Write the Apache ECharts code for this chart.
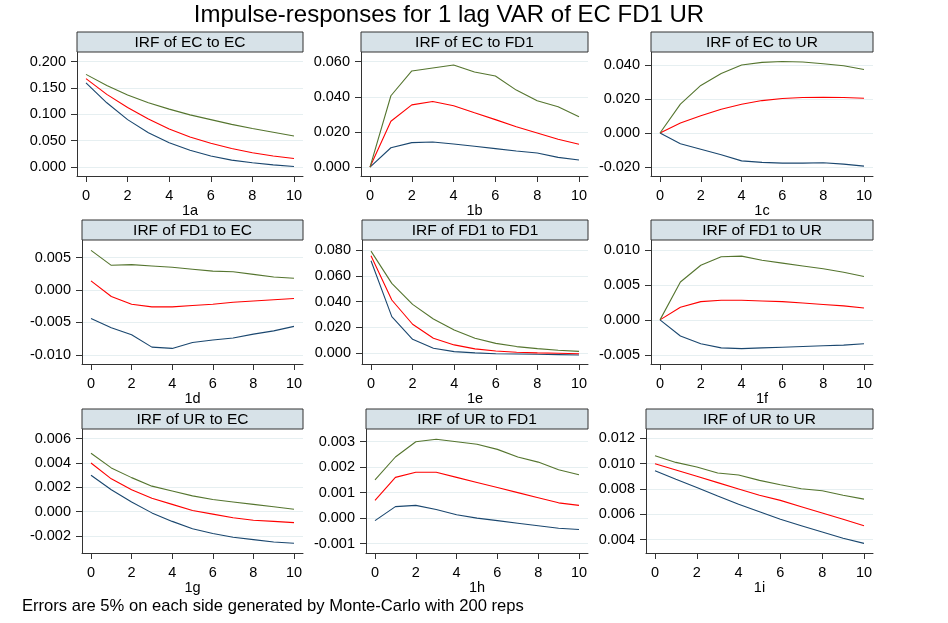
<!DOCTYPE html>
<html>
<head>
<meta charset="utf-8">
<script src="https://cdn.jsdelivr.net/npm/echarts@6/dist/echarts.min.js"></script>
<style>
html,body{margin:0;padding:0;background:#fff;}
#chart{width:948px;height:623px;}
</style>
</head>
<body>
<div id="chart"></div>
<script>
// ---------- DATA ----------
const horizons = [0,1,2,3,4,5,6,7,8,9,10];
const xTicks = [0,2,4,6,8,10];

const mainTitle = "Impulse-responses for 1 lag VAR of EC FD1 UR";
const footNote = "Errors are 5% on each side generated by Monte-Carlo with 200 reps";

const panelTitles = ["IRF of EC to EC","IRF of EC to FD1","IRF of EC to UR",
                     "IRF of FD1 to EC","IRF of FD1 to FD1","IRF of FD1 to UR",
                     "IRF of UR to EC","IRF of UR to FD1","IRF of UR to UR"];
const panelLabels = ["1a","1b","1c","1d","1e","1f","1g","1h","1i"];

// upper bound / irf / lower bound
const ec_ec_hi  = [0.176,0.155,0.137,0.122,0.110,0.099,0.090,0.081,0.073,0.066,0.059];
const ec_ec_irf = [0.168,0.138,0.113,0.091,0.072,0.057,0.045,0.035,0.027,0.021,0.016];
const ec_ec_lo  = [0.160,0.122,0.090,0.065,0.046,0.032,0.021,0.013,0.008,0.004,0.001];

const ec_fd1_hi  = [0,0.0406,0.0547,0.0564,0.0581,0.0541,0.0518,0.0438,0.0377,0.0343,0.0286];
const ec_fd1_irf = [0,0.0261,0.0354,0.0373,0.0349,0.0309,0.0270,0.0229,0.0194,0.0158,0.0130];
const ec_fd1_lo  = [0,0.0110,0.0139,0.0143,0.0131,0.0118,0.0105,0.0091,0.0080,0.0055,0.0040];

const ec_ur_hi  = [0,0.0170,0.0280,0.0351,0.0400,0.0416,0.0421,0.0418,0.0408,0.0396,0.0374];
const ec_ur_irf = [0,0.0059,0.0102,0.0140,0.0169,0.0191,0.0203,0.0209,0.0211,0.0209,0.0205];
const ec_ur_lo  = [0,-0.0063,-0.0095,-0.0128,-0.0164,-0.0173,-0.0177,-0.0177,-0.0175,-0.0183,-0.0195];

const fd1_ec_hi  = [0.0061,0.0038,0.0039,0.0037,0.0035,0.0032,0.0029,0.0028,0.0024,0.0020,0.0018];
const fd1_ec_irf = [0.0014,-0.0010,-0.0022,-0.0026,-0.0026,-0.0024,-0.0022,-0.0019,-0.0017,-0.0015,-0.0013];
const fd1_ec_lo  = [-0.0044,-0.0058,-0.0069,-0.0088,-0.0090,-0.0081,-0.0077,-0.0074,-0.0068,-0.0063,-0.0056];

const fd1_fd1_hi  = [0.0792,0.0542,0.0379,0.0266,0.0181,0.0116,0.0077,0.0052,0.0036,0.0023,0.0015];
const fd1_fd1_irf = [0.0756,0.0413,0.0225,0.0116,0.0065,0.0034,0.0018,0.0008,0.0003,0.0000,-0.0003];
const fd1_fd1_lo  = [0.0717,0.0284,0.0108,0.0039,0.0013,0.0003,-0.0003,-0.0005,-0.0008,-0.0010,-0.0013];

const fd1_ur_hi  = [0,0.0054,0.0078,0.0090,0.0091,0.0085,0.0081,0.0077,0.0073,0.0068,0.0062];
const fd1_ur_irf = [0,0.0018,0.0026,0.0028,0.0028,0.0027,0.0026,0.0024,0.0022,0.0020,0.0017];
const fd1_ur_lo  = [0,-0.0023,-0.0034,-0.0040,-0.0041,-0.0040,-0.0039,-0.0038,-0.0037,-0.0036,-0.0034];

const ur_ec_hi  = [0.0048,0.0036,0.0028,0.0021,0.0017,0.0013,0.0010,0.0008,0.0006,0.0004,0.0002];
const ur_ec_irf = [0.0040,0.0027,0.0018,0.0011,0.0006,0.0001,-0.0002,-0.0005,-0.0007,-0.0008,-0.0009];
const ur_ec_lo  = [0.0030,0.0018,0.0008,-0.0001,-0.0008,-0.0014,-0.0018,-0.0021,-0.0023,-0.0025,-0.0026];

const ur_fd1_hi  = [0.0015,0.0024,0.0030,0.0031,0.0030,0.0029,0.0027,0.0024,0.0022,0.0019,0.0017];
const ur_fd1_irf = [0.0007,0.0016,0.0018,0.0018,0.0016,0.0014,0.0012,0.0010,0.0008,0.0006,0.0005];
const ur_fd1_lo  = [-0.0001,0.00045,0.0005,0.00034,0.00013,0.0000,-0.0001,-0.0002,-0.0003,-0.0004,-0.00045];

const ur_ur_hi  = [0.01063,0.0101,0.00974,0.00926,0.0091,0.00868,0.00834,0.00802,0.00786,0.0075,0.0072];
const ur_ur_irf = [0.0100,0.0095,0.0090,0.0085,0.0080,0.0075,0.0071,0.0066,0.0061,0.0056,0.0051];
const ur_ur_lo  = [0.00944,0.00877,0.00811,0.00745,0.0068,0.0062,0.0056,0.0051,0.0046,0.0041,0.0037];

// y tick labels per panel
const yTicks1 = [0,0.05,0.1,0.15,0.2];
const yTicks2 = [0,0.02,0.04,0.06];
const yTicks3 = [-0.02,0,0.02,0.04];
const yTicks4 = [-0.01,-0.005,0,0.005];
const yTicks5 = [0,0.02,0.04,0.06,0.08];
const yTicks6 = [-0.005,0,0.005,0.01];
const yTicks7 = [-0.002,0,0.002,0.004,0.006];
const yTicks8 = [-0.001,0,0.001,0.002,0.003];
const yTicks9 = [0.004,0.006,0.008,0.010,0.012];

// ---------- LAYOUT / STYLE ----------
const panelData = [
  [ec_ec_hi,ec_ec_irf,ec_ec_lo],[ec_fd1_hi,ec_fd1_irf,ec_fd1_lo],[ec_ur_hi,ec_ur_irf,ec_ur_lo],
  [fd1_ec_hi,fd1_ec_irf,fd1_ec_lo],[fd1_fd1_hi,fd1_fd1_irf,fd1_fd1_lo],[fd1_ur_hi,fd1_ur_irf,fd1_ur_lo],
  [ur_ec_hi,ur_ec_irf,ur_ec_lo],[ur_fd1_hi,ur_fd1_irf,ur_fd1_lo],[ur_ur_hi,ur_ur_irf,ur_ur_lo]
];
const yTickSets = [yTicks1,yTicks2,yTicks3,yTicks4,yTicks5,yTicks6,yTicks7,yTicks8,yTicks9];
const yRanges = [[-0.0171,0.2185],[-0.0051,0.0655],[-0.0253,0.0477],
                 [-0.0114,0.0077],[-0.0083,0.0878],[-0.0063,0.0114],
                 [-0.0034,0.0068],[-0.00137,0.0035],[0.00294,0.01274]];
const boxes = [ // left, top, width, height of plot region
  [77,52,226,124],[361,52,227,124],[651,52,222,124],
  [82,240,221,124],[362,240,226,124],[651,240,222,124],
  [82,429,221,124],[366,429,222,124],[646,429,227,124]
];
const stripH = 20;
const lineColors = ['#55752f','#ff0000','#1a476f'];
const FONT = '"Liberation Sans", Arial, Helvetica, sans-serif';

const grids=[], xAxes=[], yAxes=[], series=[], graphics=[];
boxes.forEach((b,i)=>{
  const [l,t,w,h] = b;
  grids.push({left:l, top:t, width:w, height:h, containLabel:false});
  const ppu = (w-18)/10;
  xAxes.push({
    type:'value', gridIndex:i, min:-9/ppu, max:10+9/ppu,
    name: panelLabels[i], nameLocation:'middle', nameGap:27,
    nameTextStyle:{fontFamily:FONT, fontSize:14.5, color:'#000'},
    axisLine:{show:true, onZero:false, lineStyle:{color:'#333', width:1}},
    axisTick:{show:true, length:6, customValues:xTicks, lineStyle:{color:'#333'}},
    axisLabel:{customValues:xTicks, margin:12, fontFamily:FONT, fontSize:14.5, color:'#000'},
    splitLine:{show:false}
  });
  yAxes.push({
    type:'value', gridIndex:i, min:yRanges[i][0], max:yRanges[i][1],
    axisLine:{show:true, onZero:false, lineStyle:{color:'#333', width:1}},
    axisTick:{show:true, length:6, customValues:yTickSets[i], lineStyle:{color:'#333'}},
    axisLabel:{customValues:yTickSets[i], margin:11, fontFamily:FONT, fontSize:14.5, color:'#000',
               formatter:v=>v.toFixed(3)},
    splitLine:{show:true, lineStyle:{color:'#e6eff1', width:1}}
  });
  panelData[i].forEach((arr,k)=>{
    series.push({
      type:'line', xAxisIndex:i, yAxisIndex:i,
      data: horizons.map((x,j)=>[x,arr[j]]),
      showSymbol:false, symbol:'none', silent:true, animation:false,
      lineStyle:{color:lineColors[k], width:1.1}, z: 3-k
    });
  });
  graphics.push({
    type:'rect', shape:{x:l, y:t-stripH, width:w, height:stripH},
    style:{fill:'#d7e2e8', stroke:'#333', lineWidth:1}, z:10
  });
  graphics.push({
    type:'text', x:l+w/2, y:t-stripH/2+1,
    style:{text:panelTitles[i], fontFamily:FONT, fontSize:15.5, fill:'#000',
           textAlign:'center', textVerticalAlign:'middle'}, z:11
  });
});
graphics.push({type:'text', x:449, y:15,
  style:{text:mainTitle, fontFamily:FONT, fontSize:24, fill:'#000', textAlign:'center', textVerticalAlign:'middle'}});
graphics.push({type:'text', x:22, y:606,
  style:{text:footNote, fontFamily:FONT, fontSize:16.6, fill:'#000', textAlign:'left', textVerticalAlign:'middle'}});

const chart = echarts.init(document.getElementById('chart'), null, {renderer:'canvas'});
chart.setOption({
  animation:false,
  backgroundColor:'#ffffff',
  grid:grids, xAxis:xAxes, yAxis:yAxes, series:series,
  graphic:graphics
});
</script>
</body>
</html>
